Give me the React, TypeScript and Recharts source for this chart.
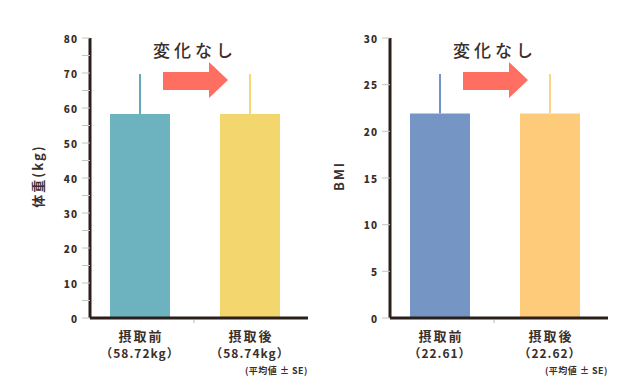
import React from 'react';
import { BarChart, Bar, XAxis, YAxis, ErrorBar } from 'recharts';

const categories = ['摂取前', '摂取後'];
const weightSubLabels = ['（58.72kg）', '（58.74kg）'];
const bmiSubLabels = ['（22.61）', '（22.62）'];
const weightValues = [58.3, 58.3];
const weightErrors = [11.4, 11.4];
const bmiValues = [21.9, 21.9];
const bmiErrors = [4.25, 4.25];
const weightTicks = [0, 5, 10, 15, 20, 25, 30, 35, 40, 45, 50, 55, 60, 65, 70, 75, 80];
const bmiTicks = [0, 5, 10, 15, 20, 25, 30];
const titleText = '変化なし';
const noteText = '(平均値 ± SE)';

const FONT = "'Noto Sans CJK JP', 'Noto Sans', sans-serif";
const TEXT = '#3a2e2a';
const AXIS = '#2a1f1b';

function buildData(values: number[], errors: number[], subs: string[]) {
  return categories.map((c, i) => ({
    name: c,
    sub: subs[i],
    before: i === 0 ? values[i] : null,
    beforeErr: i === 0 ? [0, errors[i]] : null,
    after: i === 1 ? values[i] : null,
    afterErr: i === 1 ? [0, errors[i]] : null,
  }));
}

const weightData = buildData(weightValues, weightErrors, weightSubLabels);
const bmiData = buildData(bmiValues, bmiErrors, bmiSubLabels);

const makeYTick = (step: number) => (props: any) => {
  const { x, y, payload } = props;
  if (payload.value % step !== 0) return <g />;
  return (
    <text x={x} y={y} textAnchor="end" dominantBaseline="central" fill={TEXT}
      style={{ fontFamily: FONT, fontSize: 10, fontWeight: 900, letterSpacing: 1 }}>
      {payload.value}
    </text>
  );
};

const makeXTick = (data: any[]) => (props: any) => {
  const { x, y, payload, index } = props;
  const row = data[index];
  return (
    <g>
      {index === 0 && <line x1={x + 54} x2={x + 54} y1={y + 2} y2={y + 5} stroke="#bbb" strokeWidth={1} />}
      <text x={x + 1} y={y + 17} textAnchor="middle" dominantBaseline="central" fill={TEXT}
        style={{ fontFamily: FONT, fontSize: 13, fontWeight: 700, letterSpacing: 2 }}>
        {payload.value}
      </text>
      <text x={x} y={y + 34} textAnchor="middle" dominantBaseline="central" fill={TEXT}
        style={{ fontFamily: FONT, fontSize: 12, fontWeight: 700, letterSpacing: 1 }}>
        {row ? row.sub : ''}
      </text>
    </g>
  );
};

function Panel(props: {
  data: any[]; domain: [number, number]; ticks: number[]; step: number;
  colors: string[]; errColors: string[]; marginLeft: number; marginRight: number;
}) {
  const { data, domain, ticks, step, colors, errColors, marginLeft, marginRight } = props;
  return (
    <BarChart width={320} height={380} data={data} barSize={60} barGap={-60}
      margin={{ top: 38, right: marginRight, bottom: 22, left: marginLeft }}>
      <XAxis dataKey="name" height={40} padding={{ left: -5, right: 3 }}
        axisLine={{ stroke: AXIS, strokeWidth: 3 }} tickLine={false} tickSize={0} tickMargin={0}
        tick={makeXTick(data)} interval={0} />
      <YAxis type="number" domain={domain} ticks={ticks} interval={0} width={60}
        axisLine={{ stroke: AXIS, strokeWidth: 3 }} tickLine={{ stroke: '#c4c4c4', strokeWidth: 1 }}
        tickSize={8} tickMargin={4} tick={makeYTick(step)} allowDataOverflow />
      <Bar dataKey="before" fill={colors[0]} isAnimationActive={false}>
        <ErrorBar dataKey="beforeErr" width={0} strokeWidth={2} stroke={errColors[0]} direction="y" />
      </Bar>
      <Bar dataKey="after" fill={colors[1]} isAnimationActive={false}>
        <ErrorBar dataKey="afterErr" width={0} strokeWidth={2} stroke={errColors[1]} direction="y" />
      </Bar>
    </BarChart>
  );
}

function Arrow({ x, y }: { x: number; y: number }) {
  const d = `M${x},${y + 10} L${x + 46},${y + 10} L${x + 46},${y} L${x + 65},${y + 18} L${x + 46},${y + 36} L${x + 46},${y + 28} L${x},${y + 28} Z`;
  return <path d={d} fill="#ff6f61" />;
}

export default function App() {
  return (
    <div style={{ position: 'absolute', left: 0, top: 0, width: 640, height: 380, background: '#fff' }}>
      <div style={{ position: 'absolute', left: 0, top: 0 }}>
        <Panel data={weightData} domain={[0, 80]} ticks={weightTicks} step={10}
          colors={['#6db2bf', '#f4d66e']} errColors={['#62aabb', '#f8d874']}
          marginLeft={30} marginRight={12} />
      </div>
      <div style={{ position: 'absolute', left: 320, top: 0 }}>
        <Panel data={bmiData} domain={[0, 30]} ticks={bmiTicks} step={5}
          colors={['#7596c4', '#fdcb7a']} errColors={['#6e94c8', '#fdd389']}
          marginLeft={10} marginRight={32} />
      </div>
      <svg width={640} height={380} style={{ position: 'absolute', left: 0, top: 0, pointerEvents: 'none' }}>
        <g style={{ fontFamily: FONT }} fill={TEXT}>
          <text x={195} y={49} textAnchor="middle" dominantBaseline="central"
            style={{ fontSize: 17, fontWeight: 500, letterSpacing: 4 }}>{titleText}</text>
          <text x={495} y={49} textAnchor="middle" dominantBaseline="central"
            style={{ fontSize: 17, fontWeight: 500, letterSpacing: 4 }}>{titleText}</text>
          <text transform="translate(37,176) rotate(-90)" textAnchor="middle" dominantBaseline="central"
            style={{ fontSize: 13, fontWeight: 700, letterSpacing: 2 }}>体重(kg)</text>
          <text transform="translate(338,176) rotate(-90)" textAnchor="middle" dominantBaseline="central"
            style={{ fontSize: 13, fontWeight: 700, letterSpacing: 2 }}>BMI</text>
          <text x={308} y={370} textAnchor="end" dominantBaseline="central"
            style={{ fontSize: 9, fontWeight: 700, letterSpacing: 0.5 }}>{noteText}</text>
          <text x={608} y={370} textAnchor="end" dominantBaseline="central"
            style={{ fontSize: 9, fontWeight: 700, letterSpacing: 0.5 }}>{noteText}</text>
        </g>
        <Arrow x={163} y={62} />
        <Arrow x={463} y={62} />
      </svg>
    </div>
  );
}
